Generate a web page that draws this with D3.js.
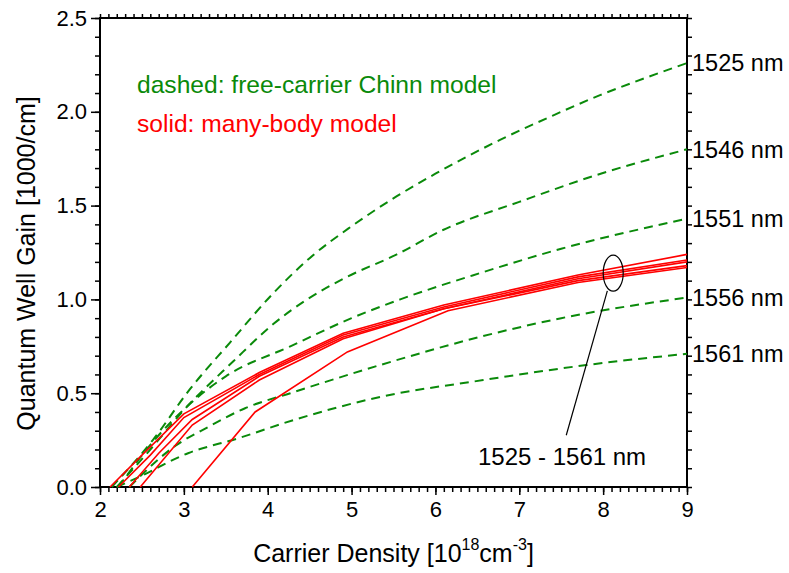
<!DOCTYPE html>
<html>
<head>
<meta charset="utf-8">
<script src="https://cdn.jsdelivr.net/npm/d3@7"></script>
<style>
  body { margin: 0; background: #fff; }
  text { font-family: "Liberation Sans", Arial, sans-serif; }
</style>
</head>
<body>
<div id="chart"></div>
<script>
let svgWidth = 789;
let svgHeight = 573;

let margin = { top: 18, right: 102, bottom: 86, left: 100 };
let width = svgWidth - margin.left - margin.right;
let height = svgHeight - margin.top - margin.bottom;

// free-carrier (Chinn) model, dashed green  [density, gain]
let chinn1525 = [[2.14,0],[2.63,0.25],[3.07,0.52],[3.55,0.77],[4.06,1.03],[4.5,1.22],[5.0,1.39],[5.54,1.55],[6.0,1.67],[6.77,1.85],[7.4,1.98],[7.97,2.09],[8.5,2.18],[9,2.26]];
let chinn1546 = [[2.2,0],[2.6,0.2],[3.0,0.41],[3.59,0.67],[4.07,0.87],[4.47,1.0],[4.9,1.11],[5.54,1.24],[6.09,1.37],[7.0,1.52],[7.97,1.67],[9,1.80]];
let chinn1551 = [[2.22,0],[2.63,0.24],[3.04,0.43],[3.5,0.59],[4.27,0.75],[5.0,0.9],[5.58,1.0],[6.53,1.14],[7.5,1.27],[9,1.43]];
let chinn1556 = [[2.35,0],[2.9,0.22],[3.29,0.32],[3.73,0.42],[4.27,0.5],[5.34,0.65],[6.53,0.8],[7.5,0.9],[9,1.01]];
let chinn1561 = [[2.2,0],[2.45,0.05],[3.05,0.18],[3.65,0.26],[4.33,0.36],[5.34,0.48],[6.57,0.57],[7.8,0.65],[9,0.71]];

// many-body model, solid red
let mb1 = [[2.12,0],[2.5,0.17],[3.0,0.39],[3.9,0.61],[4.9,0.82],[6.1,0.97],[7.7,1.13],[9,1.24]];
let mb2 = [[2.22,0],[2.6,0.17],[3.0,0.37],[3.9,0.6],[4.9,0.81],[6.1,0.96],[7.7,1.12],[9,1.21]];
let mb3 = [[2.35,0],[2.7,0.18],[3.1,0.36],[3.9,0.59],[4.9,0.8],[6.1,0.95],[7.7,1.11],[9,1.2]];
let mb4 = [[2.48,0],[2.8,0.17],[3.1,0.33],[3.9,0.57],[4.9,0.79],[6.1,0.95],[7.7,1.1],[9,1.18]];
let mb5 = [[3.1,0],[3.85,0.4],[4.95,0.72],[6.15,0.94],[7.7,1.09],[9,1.17]];

let chinnSeries = [chinn1525, chinn1546, chinn1551, chinn1556, chinn1561];
let chinnLabels = ['1525 nm', '1546 nm', '1551 nm', '1556 nm', '1561 nm'];
let manyBodySeries = [mb1, mb2, mb3, mb4, mb5];

let xTicks = [2, 3, 4, 5, 6, 7, 8, 9];
let yTicks = [0.0, 0.5, 1.0, 1.5, 2.0, 2.5];

// annotation: ellipse round the red bundle, pointer, label
let annoEllipse = [8.12, 1.14];
let annoPointer = [[8.05, 1.045], [7.56, 0.276]];
let annoLabel = [7.51, 0.115];

let svg = d3.select('#chart')
  .append('svg')
  .attr('width', svgWidth)
  .attr('height', svgHeight);

let chartGroup = svg.append('g')
  .attr('transform', `translate(${margin.left}, ${margin.top})`);

let xScale = d3.scaleLinear().domain([2, 9]).range([0, width]);
let yScale = d3.scaleLinear().domain([0, 2.5]).range([height, 0]);

let xMinor = d3.range(20, 91).map(d => d / 10);
let yMinor = d3.range(0, 26).map(d => d / 10);

// bottom axis
chartGroup.append('g')
  .attr('transform', `translate(0,${height})`)
  .call(d3.axisBottom(xScale).tickValues(xMinor).tickSize(5).tickFormat(''))
  .call(g => g.select('.domain').remove());
chartGroup.append('g')
  .attr('transform', `translate(0,${height})`)
  .call(d3.axisBottom(xScale).tickValues(xTicks).tickSize(8).tickPadding(6).tickFormat(d3.format('d')))
  .call(g => g.select('.domain').remove())
  .call(g => g.selectAll('text').attr('font-size', 22).attr('fill', '#000'));

// left axis
chartGroup.append('g')
  .call(d3.axisLeft(yScale).tickValues(yMinor).tickSize(5).tickFormat(''))
  .call(g => g.select('.domain').remove());
chartGroup.append('g')
  .call(d3.axisLeft(yScale).tickValues(yTicks).tickSize(9).tickPadding(4).tickFormat(d3.format('.1f')))
  .call(g => g.select('.domain').remove())
  .call(g => g.selectAll('text').attr('font-size', 22).attr('fill', '#000'));

// top and right axes, ticks only
chartGroup.append('g')
  .call(d3.axisTop(xScale).tickValues(xMinor).tickSize(4).tickFormat(''))
  .call(g => g.select('.domain').remove());
chartGroup.append('g')
  .attr('transform', `translate(${width},0)`)
  .call(d3.axisRight(yScale).tickValues(yMinor).tickSize(5).tickFormat(''))
  .call(g => g.select('.domain').remove());

chartGroup.selectAll('.tick line').attr('stroke', '#000').attr('stroke-width', 1.5);

chartGroup.append('rect')
  .attr('width', width)
  .attr('height', height)
  .attr('fill', 'none')
  .attr('stroke', '#000')
  .attr('stroke-width', 2);

let smoothLine = d3.line()
  .x(d => xScale(d[0]))
  .y(d => yScale(d[1]))
  .curve(d3.curveMonotoneX);

let straightLine = d3.line()
  .x(d => xScale(d[0]))
  .y(d => yScale(d[1]));

chartGroup.selectAll('.chinn')
  .data(chinnSeries)
  .enter()
  .append('path')
  .attr('class', 'chinn')
  .attr('d', smoothLine)
  .attr('fill', 'none')
  .attr('stroke', '#0a8a0a')
  .attr('stroke-width', 2)
  .attr('stroke-dasharray', '9,6');

chartGroup.selectAll('.manybody')
  .data(manyBodySeries)
  .enter()
  .append('path')
  .attr('class', 'manybody')
  .attr('d', straightLine)
  .attr('fill', 'none')
  .attr('stroke', '#ff0000')
  .attr('stroke-width', 1.6);

// wavelength labels at the right end of each dashed curve
chartGroup.selectAll('.nm')
  .data(chinnSeries)
  .enter()
  .append('text')
  .attr('x', width + 5)
  .attr('y', d => yScale(d[d.length - 1][1]))
  .attr('dy', '0.36em')
  .attr('font-size', 23.5)
  .attr('fill', '#000')
  .text((d, i) => chinnLabels[i]);

// annotation
chartGroup.append('ellipse')
  .attr('cx', xScale(annoEllipse[0]))
  .attr('cy', yScale(annoEllipse[1]))
  .attr('rx', 10)
  .attr('ry', 18)
  .attr('fill', 'none')
  .attr('stroke', '#000')
  .attr('stroke-width', 1.2);

chartGroup.append('path')
  .attr('d', straightLine(annoPointer))
  .attr('fill', 'none')
  .attr('stroke', '#000')
  .attr('stroke-width', 1.2);

chartGroup.append('text')
  .attr('x', xScale(annoLabel[0]))
  .attr('y', yScale(annoLabel[1]))
  .attr('text-anchor', 'middle')
  .attr('font-size', 24)
  .attr('fill', '#000')
  .text('1525 - 1561 nm');

// legend texts
chartGroup.append('text')
  .attr('x', 37)
  .attr('y', 75)
  .attr('font-size', 24.6)
  .attr('fill', '#0a8a0a')
  .text('dashed: free-carrier Chinn model');

chartGroup.append('text')
  .attr('x', 37)
  .attr('y', 114)
  .attr('font-size', 24.6)
  .attr('fill', '#ff0000')
  .text('solid: many-body model');

// axis titles
let xTitle = chartGroup.append('text')
  .attr('x', width / 2)
  .attr('y', height + 75)
  .attr('text-anchor', 'middle')
  .attr('font-size', 25)
  .attr('fill', '#000');
xTitle.append('tspan').text('Carrier Density [10');
xTitle.append('tspan').attr('dy', -12).attr('font-size', 16).text('18');
xTitle.append('tspan').attr('dy', 12).text('cm');
xTitle.append('tspan').attr('dy', -12).attr('font-size', 16).text('-3');
xTitle.append('tspan').attr('dy', 12).text(']');

chartGroup.append('text')
  .attr('transform', `translate(${-margin.left + 35}, ${height / 2 + 11}) rotate(-90)`)
  .attr('text-anchor', 'middle')
  .attr('font-size', 25)
  .attr('fill', '#000')
  .text('Quantum Well Gain [1000/cm]');
</script>
</body>
</html>
